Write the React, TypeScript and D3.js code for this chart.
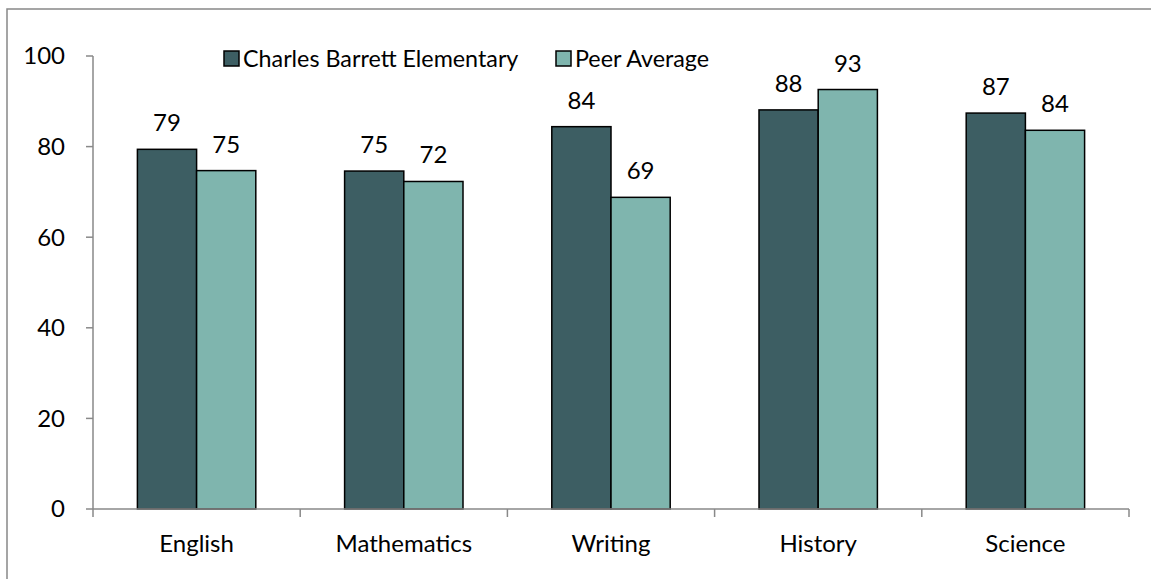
import React from "react";
import * as d3 from "d3";

const categories = ["English", "Mathematics", "Writing", "History", "Science"];
const seriesNames = ["Charles Barrett Elementary", "Peer Average"];
const schoolValues = [79.4, 74.6, 84.4, 88.1, 87.4];
const peerValues = [74.7, 72.3, 68.8, 92.6, 83.6];
const yTicks = [0, 20, 40, 60, 80, 100];
const colors = ["#3d5e63", "#7fb5ae"];

const W = 1151;
const H = 579;
const FONT = "Lato, 'Noto Sans', sans-serif";
const FS = 24;

export default function App() {
  const x = d3.scaleBand<string>().domain(categories).range([93, 1129]);
  const inner = d3
    .scaleBand<number>()
    .domain([0, 1])
    .range([0, x.bandwidth()])
    .paddingInner(0)
    .paddingOuter(0.75);
  const y = d3.scaleLinear().domain([0, 100]).range([509, 56]);
  const series = [schoolValues, peerValues];
  const axisColor = "#898989";

  const xTickPos = categories.map((c) => x(c) as number).concat([x.range()[1]]);

  return (
    <svg
      width={W}
      height={H}
      style={{ position: "absolute", left: 0, top: 0, background: "#fff" }}
      fontFamily={FONT}
    >
      <rect x={7} y={9} width={1300} height={700} fill="#fff" stroke="#888" strokeWidth={1.5} />
      {/* y axis */}
      <line x1={93} x2={93} y1={y(100)} y2={y(0)} stroke={axisColor} strokeWidth={1.5} />
      {yTicks.map((t) => (
        <g key={t}>
          <line x1={86} x2={93} y1={y(t)} y2={y(t)} stroke={axisColor} strokeWidth={1.5} />
          <text x={65} y={y(t)} dy="0.35em" textAnchor="end" fontSize={FS} fill="#000">
            {t}
          </text>
        </g>
      ))}
      {/* bars */}
      {series.map((vals, si) =>
        categories.map((c, ci) => {
          const bx = (x(c) as number) + (inner(si) as number);
          const bw = inner.bandwidth();
          const v = vals[ci];
          return (
            <g key={`${si}-${ci}`}>
              <rect
                x={bx}
                y={y(v)}
                width={bw}
                height={y(0) - y(v)}
                fill={colors[si]}
                stroke="#000"
                strokeWidth={1.5}
              />
              <text
                x={bx + bw / 2}
                y={y(v) - 18}
                textAnchor="middle"
                fontSize={FS}
                fill="#000"
              >
                {Math.round(v)}
              </text>
            </g>
          );
        })
      )}
      {/* x axis */}
      <line x1={93} x2={1129} y1={y(0)} y2={y(0)} stroke={axisColor} strokeWidth={1.5} />
      {xTickPos.map((p, i) => (
        <line key={i} x1={p} x2={p} y1={y(0)} y2={y(0) + 8} stroke={axisColor} strokeWidth={1.5} />
      ))}
      {categories.map((c) => (
        <text
          key={c}
          x={(x(c) as number) + x.bandwidth() / 2}
          y={552}
          textAnchor="middle"
          fontSize={FS}
          fill="#000"
        >
          {c}
        </text>
      ))}
      {/* legend */}
      {seriesNames.map((n, i) => {
        const lx = i === 0 ? 224 : 556;
        return (
          <g key={n}>
            <rect x={lx} y={51} width={15} height={15} fill={colors[i]} stroke="#000" strokeWidth={1.5} />
            <text x={lx + 19} y={58.5} dy="0.35em" fontSize={23.3} fill="#000">
              {n}
            </text>
          </g>
        );
      })}
    </svg>
  );
}
